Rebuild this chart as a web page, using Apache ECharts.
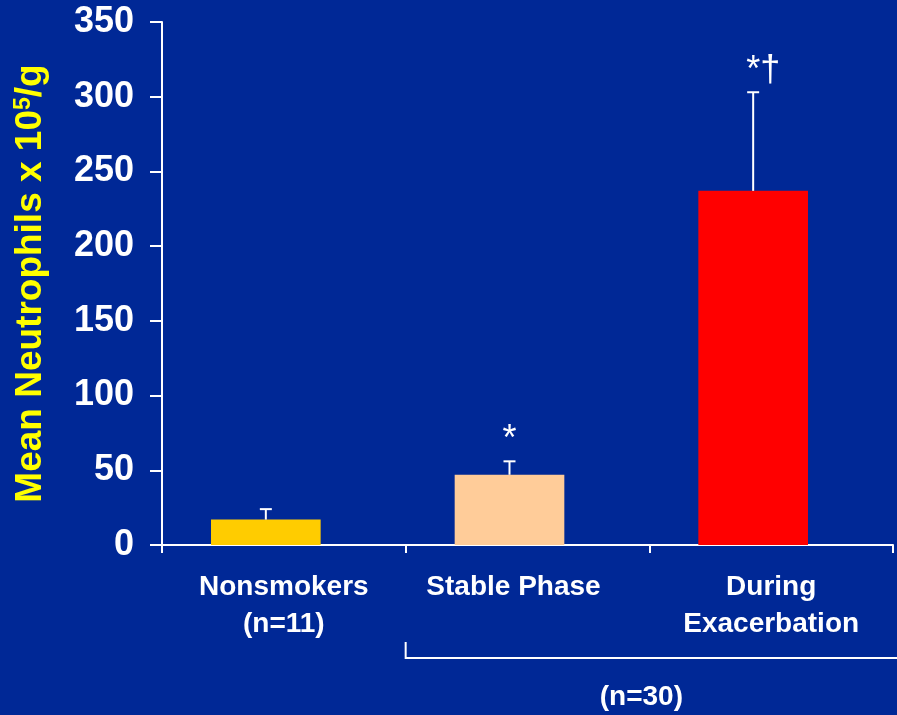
<!DOCTYPE html>
<html>
<head>
<meta charset="utf-8">
<script src="https://cdn.jsdelivr.net/npm/echarts@6/dist/echarts.min.js"></script>
<style>
  html, body { margin: 0; padding: 0; background: #002896; }
  #chart { width: 897px; height: 715px; }
</style>
</head>
<body>
<div id="chart"></div>
<script>
var categories = ['Nonsmokers\n(n=11)', 'Stable Phase\n ', 'During\nExacerbation'];
var means = [17, 47, 237];
var errTops = [24, 56, 303];
var marks = ['', '*', '*\u2020'];
var barColors = ['#FFCC00', '#FFCC99', '#FF0000'];
var groupLabel = '(n=30)';

var myChart = echarts.init(document.getElementById('chart'));

// bars sit a little left of the category centre in the original slide
var SHIFT = -18;

var option = {
    backgroundColor: '#002896',
    animation: false,
    grid: { left: 162, right: 4, top: 22, bottom: 170, outerBoundsMode: 'none', containLabel: false },
    xAxis: {
        type: 'category',
        data: categories.map(function (c, i) {
            return i === 1 ? { value: c, textStyle: { padding: [0, 28, 0, 0] } } : c;
        }),
        axisLine: { lineStyle: { color: '#fff', width: 2 } },
        axisTick: { show: true, length: 8, lineStyle: { color: '#fff', width: 2 } },
        axisLabel: {
            color: '#fff', fontWeight: 'bold', fontSize: 28,
            fontFamily: 'Liberation Sans', lineHeight: 37, margin: 24, interval: 0
        }
    },
    yAxis: {
        type: 'value',
        min: 0, max: 350, interval: 50,
        name: '{a|Mean Neutrophils x 10}{s|5}{a|/g}',
        nameLocation: 'middle',
        nameGap: 113,
        nameTextStyle: {
            rich: {
                a: { color: '#FFFF00', fontWeight: 'bold', fontSize: 37, fontFamily: 'Liberation Sans' },
                s: { color: '#FFFF00', fontWeight: 'bold', fontSize: 23, fontFamily: 'Liberation Sans', padding: [0, 0, 14, 0] }
            }
        },
        splitLine: { show: false },
        axisLine: { show: true, lineStyle: { color: '#fff', width: 2 } },
        axisTick: { show: true, length: 12, lineStyle: { color: '#fff', width: 2 } },
        axisLabel: {
            color: '#fff', fontWeight: 'bold', fontSize: 36,
            fontFamily: 'Liberation Sans', margin: 28
        }
    },
    series: [{
        type: 'custom',
        data: means.map(function (v, i) { return [i, v, errTops[i]]; }),
        encode: { x: 0, y: 1 },
        renderItem: function (params, api) {
            var i = api.value(0);
            var base = api.coord([i, 0]);
            var val = api.coord([i, api.value(1)]);
            var top = api.coord([i, api.value(2)]);
            var w = api.size([1, 0])[0] * 0.45;
            var x = base[0] + SHIFT;
            var children = [{
                type: 'rect',
                shape: { x: x - w / 2, y: val[1], width: w, height: base[1] - val[1] },
                style: { fill: barColors[i] }
            }, {
                type: 'line',
                shape: { x1: x, y1: val[1], x2: x, y2: top[1] },
                style: { stroke: '#fff', lineWidth: 2 }
            }, {
                type: 'line',
                shape: { x1: x - 6, y1: top[1], x2: x + 6, y2: top[1] },
                style: { stroke: '#fff', lineWidth: 2 }
            }];
            if (marks[i]) {
                children.push({
                    type: 'text',
                    style: {
                        text: marks[i], x: x - 7, y: top[1] - 3,
                        fill: '#fff', fontSize: 36,
                        fontFamily: 'Liberation Sans',
                        align: 'left', verticalAlign: 'bottom'
                    }
                });
            }
            return { type: 'group', children: children };
        }
    }]
};

myChart.setOption(option);

// bracket under the two COPD groups
var p1 = myChart.convertToPixel({ xAxisIndex: 0 }, 1);
var p2 = myChart.convertToPixel({ xAxisIndex: 0 }, 2);
var half = (p2 - p1) / 2;
var left = p1 - half;
var right = p2 + half;
myChart.setOption({
    graphic: [{
        type: 'polyline',
        shape: { points: [[left, 642], [left, 658], [right + 4, 658]] },
        style: { stroke: '#fff', lineWidth: 2, fill: null }
    }, {
        type: 'text',
        style: {
            text: groupLabel, x: (left + right) / 2 - 8, y: 697,
            fill: '#fff', fontSize: 28, fontWeight: 'bold',
            fontFamily: 'Liberation Sans', align: 'center', verticalAlign: 'middle'
        }
    }]
});
</script>
</body>
</html>
